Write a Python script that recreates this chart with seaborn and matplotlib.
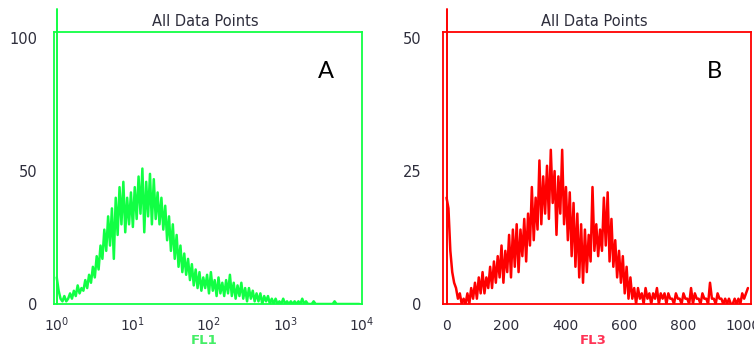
import numpy as np
import pandas as pd
import matplotlib
matplotlib.use("Agg")
import matplotlib.pyplot as plt
import matplotlib.transforms as mtrans
from matplotlib.ticker import FixedLocator, LogLocator, MultipleLocator, FuncFormatter, NullFormatter
import seaborn as sns

# ---------------- data ----------------
# Panel A: FL1 histogram, log channels (40 channels per decade, 10^0 .. 10^4)
fl1_counts = [
    10, 5, 2, 1, 3, 1, 2, 4, 2, 5,
    3, 7, 4, 6, 5, 9, 6, 11, 8, 14,
    10, 18, 13, 22, 17, 28, 20, 33, 22, 36,
    17, 40, 26, 44, 30, 46, 27, 40, 30, 42,
    29, 44, 32, 48, 34, 51, 27, 46, 33, 49,
    30, 47, 32, 42, 30, 40, 28, 37, 24, 33,
    20, 30, 17, 26, 14, 22, 12, 19, 11, 17,
    9, 15, 7, 13, 6, 12, 5, 10, 6, 11,
    4, 12, 5, 9, 3, 10, 4, 8, 3, 9,
    4, 11, 3, 8, 2, 7, 3, 8, 2, 6,
    1, 6, 2, 5, 1, 4, 1, 4, 0, 3,
    1, 3, 0, 2, 0, 2, 0, 1, 0, 2,
    0, 1, 0, 1, 0, 1, 0, 1, 0, 2,
    0, 1, 0, 0, 0, 1, 0, 0, 0, 0,
    0, 0, 0, 0, 0, 0, 1, 0, 0, 0,
    0, 0, 0, 0, 0, 0, 0, 0, 0, 0,
]
fl1_channels_per_decade = 40

# Panel B: FL3 histogram, linear channels (6.4 units per channel, 0 .. 1024)
fl3_counts = [
    20, 18, 10, 6, 4, 3, 1, 2, 0, 1,
    0, 2, 0, 3, 1, 4, 1, 5, 2, 6,
    2, 5, 3, 7, 3, 8, 4, 9, 5, 11,
    4, 10, 6, 13, 5, 14, 7, 15, 6, 14,
    9, 16, 8, 17, 11, 22, 12, 20, 14, 27,
    15, 24, 17, 26, 16, 29, 19, 25, 13, 24,
    17, 29, 15, 22, 12, 21, 9, 19, 7, 17,
    5, 15, 4, 14, 6, 13, 8, 22, 10, 15,
    9, 14, 10, 20, 11, 21, 8, 16, 7, 12,
    5, 10, 4, 9, 2, 7, 1, 5, 1, 3,
    0, 3, 1, 2, 0, 3, 1, 2, 0, 2,
    1, 3, 0, 2, 1, 2, 0, 2, 1, 1,
    0, 2, 1, 1, 0, 2, 1, 1, 0, 3,
    0, 2, 1, 1, 0, 2, 1, 1, 0, 4,
    1, 1, 0, 2, 1, 1, 0, 1, 0, 1,
    0, 0, 1, 0, 1, 0, 2, 1, 2, 3,
]
fl3_channel_width = 6.4

fl1_xticks = [1, 10, 100, 1000, 10000]
fl1_yticks = [0, 50, 100]
fl1_yminor = [25, 75]
fl3_yticks = [0, 25, 50]
fl3_yminor = [12.5, 37.5]
panel_title = "All Data Points"
panel_letters = ["A", "B"]
axis_labels = ["FL1", "FL3"]

# ---------------- style ----------------
sns.set_style("white")
plt.rcParams["font.family"] = ["DejaVu Sans"]
plt.rcParams["mathtext.fontset"] = "dejavusans"

GREEN = "#11ff44"
RED = "#ff0000"
TXT = "#2e2e3c"

W, H = 754, 350
fig = plt.figure(figsize=(W / 100, H / 100), dpi=100)


def px_rect(l, t, r, b):
    return [l / W, 1 - b / H, (r - l) / W, (b - t) / H]


axA = fig.add_axes(px_rect(54.3, 32.3, 362.3, 304))
axB = fig.add_axes(px_rect(442.7, 32.3, 750.7, 304))

dfA = pd.DataFrame({
    "FL1": 10 ** (np.arange(len(fl1_counts)) / fl1_channels_per_decade),
    "Count": fl1_counts,
})
dfB = pd.DataFrame({
    "FL3": np.arange(len(fl3_counts)) * fl3_channel_width,
    "Count": fl3_counts,
})

sns.lineplot(data=dfA, x="FL1", y="Count", ax=axA, color=GREEN, linewidth=1.8,
             estimator=None, sort=True)
sns.lineplot(data=dfB, x="FL3", y="Count", ax=axB, color=RED, linewidth=1.8,
             estimator=None, sort=True)

for ax, col in ((axA, GREEN), (axB, RED)):
    ax.set_xlabel("")
    ax.set_ylabel("")
    for s in ax.spines.values():
        s.set_visible(True)
        s.set_color(col)
        s.set_linewidth(1.3)
    ax.tick_params(axis="y", which="both", direction="out", length=9, width=1.3,
                   color=col, labelcolor=TXT, labelsize=10.5)
    ax.tick_params(axis="x", which="major", direction="out", length=8, width=1.3,
                   color=col, labelcolor=TXT, labelsize=10)
    ax.tick_params(axis="x", which="minor", direction="out", length=4.3, width=1.3,
                   color=col)

# Panel A axes
axA.set_xscale("log")
axA.set_xlim(10 ** -0.032, 10 ** 4.014)
axA.set_ylim(0, 102.3)
axA.xaxis.set_major_locator(FixedLocator(fl1_xticks))
axA.xaxis.set_minor_locator(LogLocator(base=10, subs=range(2, 10)))
axA.xaxis.set_minor_formatter(NullFormatter())
axA.xaxis.set_major_formatter(FuncFormatter(lambda v, p: r"$10^{%d}$" % int(round(np.log10(v)))))
axA.yaxis.set_major_locator(FixedLocator(fl1_yticks))
axA.yaxis.set_minor_locator(FixedLocator(fl1_yminor))
axA.tick_params(axis="x", which="major", pad=0.5)
axA.tick_params(axis="y", which="major", pad=3.5)

# Panel B axes
axB.set_xlim(-13, 1027)
axB.set_ylim(0, 51.1)
axB.xaxis.set_major_locator(MultipleLocator(100))
axB.xaxis.set_minor_locator(MultipleLocator(50))
axB.xaxis.set_major_formatter(FuncFormatter(lambda v, p: "%d" % v if int(round(v)) % 200 == 0 else ""))
axB.yaxis.set_major_locator(FixedLocator(fl3_yticks))
axB.yaxis.set_minor_locator(FixedLocator(fl3_yminor))
axB.tick_params(axis="x", which="major", pad=3)
axB.tick_params(axis="y", which="major", pad=6)

# gate marker lines at the origin, running above the frame
for ax, x0, col in ((axA, 1, GREEN), (axB, 0, RED)):
    tr = mtrans.blended_transform_factory(ax.transData, ax.transAxes)
    ax.plot([x0, x0], [0, 1.0857], transform=tr, color=col, lw=1.4, clip_on=False)


def ftext(x, y, s, **kw):
    fig.text(x / W, 1 - y / H, s, ha="center", va="center", **kw)


ftext(205, 21.7, panel_title, fontsize=10.5, color=TXT)
ftext(594, 21.7, panel_title, fontsize=10.5, color=TXT)
ftext(325.5, 71.3, panel_letters[0], fontsize=17, color="black", family=["Lato", "DejaVu Sans"])
ftext(714.5, 71.0, panel_letters[1], fontsize=17, color="black", family=["Lato", "DejaVu Sans"])
ftext(204, 341, axis_labels[0], fontsize=9.5, fontweight="bold", color="#44ee66")
ftext(593, 341, axis_labels[1], fontsize=9.5, fontweight="bold", color="#ff3355")

fig.savefig("out.png", dpi=100)
